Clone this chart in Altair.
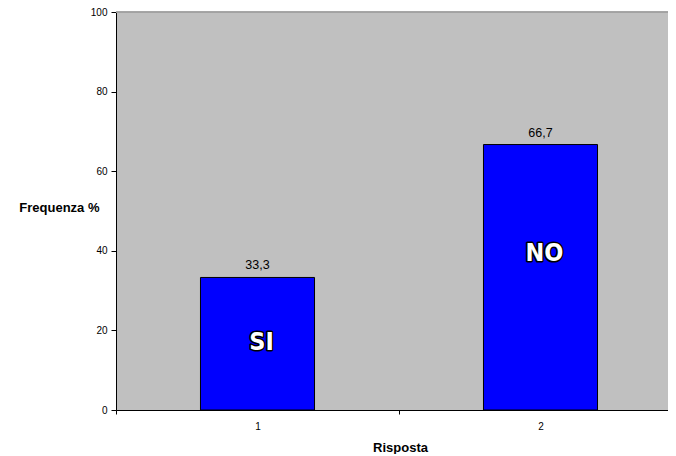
import altair as alt
import pandas as pd

risposta = ["1", "2"]
frequenza = [33.3, 66.7]
etichette = ["33,3", "66,7"]
nomi = ["SI", "NO"]
nomi_y = [17, 39.5]

df = pd.DataFrame({
    "Risposta": risposta,
    "Frequenza": frequenza,
    "Etichetta": etichette,
    "Nome": nomi,
    "NomeY": nomi_y,
})

FONT = "Liberation Sans"
NAME_FONT = "DejaVu Sans Condensed, Liberation Sans, sans-serif"

x_enc = alt.X(
    "Risposta:N",
    scale=alt.Scale(paddingInner=0, paddingOuter=0, range=[0, 566]),
    axis=alt.Axis(
        labelAngle=0, tickBand="extent", tickSize=4, tickColor="black",
        domainColor="black", labelPadding=7, labelFont=FONT, labelFontSize=10,
        labelColor="black", title="Risposta", titleFont=FONT, titleFontSize=13,
        titleFontWeight="bold", titleColor="black", titleY=31, titleX=284,
        titleBaseline="top", grid=False,
    ),
)

y_axis = alt.Axis(
    values=[0, 20, 40, 60, 80, 100], tickSize=5, tickColor="black",
    domainColor="black", labelFont=FONT, labelFontSize=10, labelColor="black",
    labelPadding=4, grid=False, title="Frequenza %", titleAngle=0,
    titleAlign="right", titleBaseline="alphabetic", titleX=-17, titleY=199,
    titleFont=FONT, titleFontSize=13, titleFontWeight="bold", titleColor="black",
)
y_scale = alt.Scale(domain=[0, 100], nice=False)

base = alt.Chart(df)

top_border = base.mark_rule(color="#A0A0A0", strokeWidth=1.5).encode(
    y=alt.datum(100, scale=y_scale),
)

bars = base.mark_bar(
    width=alt.RelativeBandSize(0.403), color="#0000FF", stroke="black", strokeWidth=1
).encode(
    x=x_enc,
    y=alt.Y("Frequenza:Q", scale=y_scale, axis=y_axis),
)

values = base.mark_text(
    font=FONT, fontSize=12.5, color="black", baseline="alphabetic", dy=-8
).encode(
    x=x_enc,
    y=alt.Y("Frequenza:Q", scale=y_scale, axis=y_axis),
    text="Etichetta:N",
)

names_outline = base.mark_text(
    font=NAME_FONT, fontWeight="bold", fontSize=25,
    color="white", stroke="black", strokeWidth=3, strokeJoin="round",
    baseline="middle", dx=4,
).encode(
    x=x_enc,
    y=alt.Y("NomeY:Q", scale=y_scale, axis=y_axis),
    text="Nome:N",
)

names_fill = base.mark_text(
    font=NAME_FONT, fontWeight="bold", fontSize=25,
    color="white", baseline="middle", dx=4,
).encode(
    x=x_enc,
    y=alt.Y("NomeY:Q", scale=y_scale, axis=y_axis),
    text="Nome:N",
)

chart = alt.layer(top_border, bars, values, names_outline, names_fill).properties(
    width=552,
    height=398,
    autosize=alt.AutoSizeParams(type="none"),
    padding={"left": 108, "top": 4, "right": 0, "bottom": 44},
    background="white",
).configure_view(
    fill="#C0C0C0", strokeWidth=0
)

chart.save("out.html", embed_options={"renderer": "svg", "actions": False})
